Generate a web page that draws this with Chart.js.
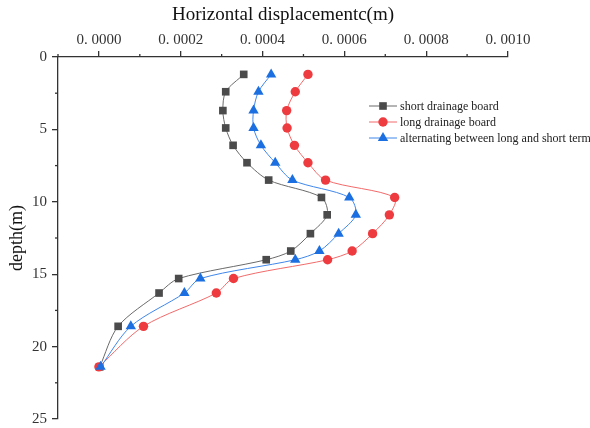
<!DOCTYPE html>
<html>
<head>
<meta charset="utf-8">
<script src="https://cdn.jsdelivr.net/npm/chart.js@4/dist/chart.umd.min.js"></script>
<style>
    body { margin: 0; background: #ffffff; }
    #contenedor { width: 590px; height: 428px; position: relative; }
</style>
</head>
<body>
<div id="contenedor"><canvas id="graficoDesplazamiento"></canvas></div>
<script>
// depth of each measuring point (m)
const depths = [1.2, 2.4, 3.7, 4.9, 6.1, 7.3, 8.5, 9.7, 10.9, 12.2, 13.4, 14.0, 15.3, 16.3, 18.6, 21.4];

// horizontal displacement (m) for each scheme
const shortBoard = [0.000354, 0.000310, 0.000303, 0.000310, 0.000328, 0.000362, 0.000415, 0.000544,
    0.000558, 0.000517, 0.000469, 0.000409, 0.000195, 0.000147, 0.000047, 0.000002];
const longBoard = [0.000511, 0.000480, 0.000459, 0.000460, 0.000478, 0.000511, 0.000554, 0.000723,
    0.000710, 0.000669, 0.000619, 0.000559, 0.000329, 0.000287, 0.000109, 0.0];
const alternating = [0.000421, 0.000390, 0.000378, 0.000378, 0.000396, 0.000431, 0.000473, 0.000612,
    0.000628, 0.000586, 0.000539, 0.000480, 0.000248, 0.000209, 0.000078, 0.000004];

const seriesLabels = ['short drainage board', 'long drainage board', 'alternating between long and short term'];

// axis ticks
const xTicks = [0, 0.0002, 0.0004, 0.0006, 0.0008, 0.0010];
const xMinorTicks = [-0.0001, 0.0001, 0.0003, 0.0005, 0.0007, 0.0009];
const yTicks = [0, 5, 10, 15, 20, 25];
const yMinorTicks = [2.5, 7.5, 12.5, 17.5, 22.5];

const fuenteSerif = "'Liberation Serif', 'Times New Roman', serif";
const colorEje = '#333333';

const aPuntos = (valores) => valores.map((v, i) => ({ x: v, y: depths[i] }));

// minor ticks + legend drawn inside the plot
const pluginExtras = {
    id: 'extras',
    afterDraw(chart) {
        const ctx = chart.ctx;
        const ejeX = chart.scales.x;
        const ejeY = chart.scales.y;
        ctx.save();
        ctx.strokeStyle = colorEje;
        ctx.lineWidth = 1.3;
        xMinorTicks.forEach(v => {
            const px = ejeX.getPixelForValue(v);
            ctx.beginPath();
            ctx.moveTo(px, ejeX.bottom);
            ctx.lineTo(px, ejeX.bottom - 3);
            ctx.stroke();
        });
        yMinorTicks.forEach(v => {
            const py = ejeY.getPixelForValue(v);
            ctx.beginPath();
            ctx.moveTo(ejeY.right, py);
            ctx.lineTo(ejeY.right - 3, py);
            ctx.stroke();
        });

        // legend
        const leyX = 369;
        const leyY = 106;
        const paso = 16;
        ctx.font = '12px ' + fuenteSerif;
        ctx.textBaseline = 'middle';
        ctx.textAlign = 'left';
        [0, 1, 2].forEach((idx, fila) => {
            const ds = chart.data.datasets[idx];
            const y = leyY + fila * paso;
            ctx.strokeStyle = ds.borderColor;
            ctx.lineWidth = 1;
            ctx.beginPath();
            ctx.moveTo(leyX, y);
            ctx.lineTo(leyX + 28, y);
            ctx.stroke();
            ctx.fillStyle = ds.pointBackgroundColor;
            ctx.strokeStyle = ds.pointBackgroundColor;
            Chart.helpers.drawPoint(ctx, {
                pointStyle: ds.pointStyle,
                radius: ds.pointRadius,
                rotation: 0,
                borderWidth: 0
            }, leyX + 14, y);
            ctx.fillStyle = '#222222';
            ctx.fillText(ds.label, leyX + 31, y + 1);
        });
        ctx.restore();
    }
};

function iniciarGrafico() {
    const ctx = document.getElementById('graficoDesplazamiento').getContext('2d');
    new Chart(ctx, {
        type: 'line',
        data: {
            datasets: [
                {
                    label: seriesLabels[0],
                    data: aPuntos(shortBoard),
                    borderColor: '#6a6a6a',
                    pointBackgroundColor: '#4b4b4b',
                    pointBorderColor: '#4b4b4b',
                    pointStyle: 'rect',
                    pointRadius: 5.4,
                    order: 3
                },
                {
                    label: seriesLabels[1],
                    data: aPuntos(longBoard),
                    borderColor: '#f26a6a',
                    pointBackgroundColor: '#ee3b3f',
                    pointBorderColor: '#ee3b3f',
                    pointStyle: 'circle',
                    pointRadius: 4.7,
                    order: 2
                },
                {
                    label: seriesLabels[2],
                    data: aPuntos(alternating),
                    borderColor: '#3f86ea',
                    pointBackgroundColor: '#1b6fe0',
                    pointBorderColor: '#1b6fe0',
                    pointStyle: 'triangle',
                    pointRadius: 6,
                    order: 1
                }
            ]
        },
        options: {
            responsive: true,
            maintainAspectRatio: false,
            animation: false,
            datasets: {
                line: {
                    borderWidth: 1,
                    tension: 0.3,
                    pointBorderWidth: 0,
                    fill: false
                }
            },
            layout: {
                padding: { left: 0, top: 0, right: 82, bottom: 9 }
            },
            scales: {
                x: {
                    type: 'linear',
                    position: 'top',
                    min: -0.0001,
                    max: 0.001,
                    afterBuildTicks: (eje) => { eje.ticks = xTicks.map(v => ({ value: v })); },
                    afterFit: (eje) => {
                        eje.height = 57;
                        eje.paddingLeft = 0;
                        eje.paddingRight = 0;
                    },
                    title: {
                        display: true,
                        text: 'Horizontal displacementc(m)',
                        color: '#111111',
                        font: { family: fuenteSerif, size: 19 },
                        padding: { top: 4, bottom: 0 }
                    },
                    ticks: {
                        color: '#333333',
                        padding: 2,
                        maxRotation: 0,
                        font: { family: fuenteSerif, size: 15 },
                        callback: (v) => Number(v).toFixed(4).replace('.', '. ')
                    },
                    grid: {
                        drawOnChartArea: false,
                        drawTicks: true,
                        tickLength: 6,
                        color: colorEje,
                        lineWidth: 1.3
                    },
                    border: { display: true, color: colorEje, width: 1.3 }
                },
                y: {
                    type: 'linear',
                    reverse: true,
                    min: 0,
                    max: 25,
                    afterBuildTicks: (eje) => { eje.ticks = yTicks.map(v => ({ value: v })); },
                    afterFit: (eje) => {
                        eje.width = 58;
                        eje.paddingTop = 0;
                        eje.paddingBottom = 0;
                    },
                    title: {
                        display: true,
                        text: 'depth(m)',
                        color: '#111111',
                        font: { family: fuenteSerif, size: 18 },
                        padding: { top: 6, bottom: 0 }
                    },
                    ticks: {
                        color: '#333333',
                        padding: 5,
                        font: { family: fuenteSerif, size: 15 }
                    },
                    grid: {
                        drawOnChartArea: false,
                        drawTicks: true,
                        tickLength: 6,
                        color: colorEje,
                        lineWidth: 1.3
                    },
                    border: { display: true, color: colorEje, width: 1.3 }
                }
            },
            plugins: {
                legend: { display: false },
                tooltip: { enabled: false }
            }
        },
        plugins: [pluginExtras]
    });
}

iniciarGrafico();
</script>
</body>
</html>
